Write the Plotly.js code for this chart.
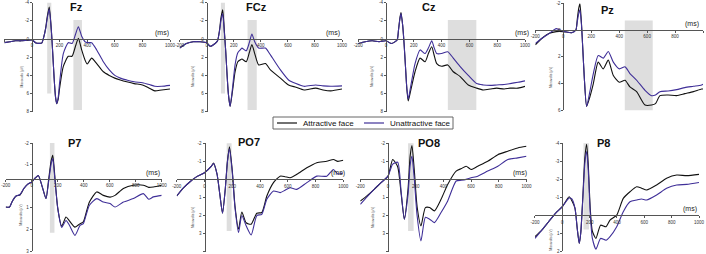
<!DOCTYPE html>
<html><head><meta charset="utf-8">
<script src="https://cdn.plot.ly/plotly-3.0.1.min.js"></script>
<style>html,body{margin:0;padding:0;background:#fff}#chart{width:706px;height:254px}</style>
</head><body><div id="chart"></div>
<script>
// ---------- DATA (ms, microvolts) ----------
const channelNames = ['Fz','FCz','Cz','Pz','P7','PO7','PO8','P8'];
const seriesNames = ['Attractive face','Unattractive face'];
const timeTicks = [-200,0,200,400,600,800,1000];

const fzTime = [-200,-160,-120,-80,-40,0,30,70,85,100,110,125,140,150,160,170,179,190,200,227,263,290,315,336,360,384,400,432,469,517,560,600,640,686,740,800,850,890,940,1000];
const fzAttractive = [0.4,0.3,0.2,0.2,0.15,0.1,0.45,0.45,-0.2,-1.3,-2.4,-3.5,-1.0,1.5,4.2,6.3,7.1,6.6,5.4,3.0,1.9,1.9,0.8,-0.07,1.2,2.3,2.75,2.1,2.7,3.6,4.0,4.3,4.5,4.7,4.9,5.05,5.4,5.7,5.6,5.5];
const fzUnattractive = [0.4,0.3,0.2,0.2,0.15,0.1,0.45,0.45,-0.2,-1.2,-2.2,-3.3,-1.0,1.5,4.2,6.3,7.1,6.4,4.8,1.6,0.4,0.5,-0.5,-1.35,-0.3,0.3,0.4,0.4,1.2,2.5,3.4,4.0,4.3,4.5,4.7,4.8,5.0,5.2,5.2,5.1];

const fczTime = [-200,-150,-100,-50,0,25,62,80,95,105,118,130,140,150,160,173,190,210,230,248,260,292,315,334,355,384,434,471,545,605,660,719,805,860,917,1000];
const fczAttractive = [1.0,0.5,0.3,0.3,0.4,0.8,0.5,0.2,-1.0,-2.3,-3.2,-1.0,1.2,3.8,6.0,7.4,5.8,3.6,2.5,2.3,2.2,2.5,1.5,0.6,1.6,2.85,2.7,3.4,4.3,5.05,5.3,5.6,5.4,5.6,5.7,5.5];
const fczUnattractive = [1.0,0.5,0.3,0.3,0.4,0.8,0.5,0.2,-0.9,-2.0,-2.8,-0.8,1.2,3.8,6.0,7.4,5.5,2.8,1.5,1.2,1.0,1.3,0.4,-0.55,0.3,1.0,1.0,1.75,3.4,4.5,4.9,5.2,5.05,5.15,5.2,5.15];

const czTime = [-200,-150,-100,-50,0,40,80,90,100,108,120,130,140,150,160,180,209,245,281,305,329,345,365,400,444,484,532,592,652,700,750,796,850,892,950,1000];
const czAttractive = [0.5,0.3,0.2,0.3,0.2,0.5,0.1,-1.0,-2.3,-2.9,-1.5,0.5,3.0,5.5,6.8,5.5,3.6,2.1,2.5,1.6,0.85,1.7,2.7,3.0,2.85,3.6,4.1,5.05,5.4,5.6,5.5,5.4,5.5,5.4,5.4,5.2];
const czUnattractive = [0.5,0.3,0.2,0.3,0.2,0.5,0.1,-1.0,-2.2,-2.8,-1.5,0.5,3.0,5.4,6.6,5.0,2.7,1.2,1.6,1.0,0.2,0.9,1.6,1.6,1.4,2.1,3.0,4.0,4.9,5.05,5.1,5.05,5.0,4.9,4.75,4.6];

const pzTime = [-200,-150,-100,-50,0,60,90,100,110,119,130,140,150,167,190,215,250,286,322,358,401,442,477,525,585,632,660,692,750,811,870,931,990,1000];
const pzAttractive = [1.1,0.6,0.25,0.12,0.12,0.2,0.0,-0.8,-1.6,-1.95,-0.5,1.5,3.5,5.7,5.0,4.0,2.4,2.9,2.25,3.4,3.9,3.75,4.25,4.6,5.6,5.6,5.5,4.9,4.85,4.9,4.75,4.6,4.4,4.4];
const pzUnattractive = [1.0,0.6,0.25,-0.1,0.1,0.2,0.0,-0.6,-1.2,-1.5,-0.4,1.5,3.5,5.7,4.6,3.25,1.9,2.1,1.6,2.4,2.9,2.75,3.25,3.75,4.5,4.9,4.85,4.6,4.55,4.45,4.3,4.2,4.1,4.05];

const p7Time = [-200,-170,-150,-120,-90,-60,-30,0,30,51,80,110,130,150,162,180,200,231,264,290,333,372,397,420,444,500,551,603,641,705,782,859,900,936,1000];
const p7Attractive = [0.96,0.96,0.7,0.45,0.4,0.1,-0.1,-0.2,-0.4,-0.5,0.0,0.57,-0.3,-1.2,-1.44,-0.3,1.0,1.85,1.42,1.6,1.89,1.73,1.65,1.2,0.73,0.26,0.42,0.5,0.42,0.1,-0.05,-0.05,0.05,0.03,-0.05];
const p7Unattractive = [0.96,0.96,0.7,0.45,0.38,0.1,-0.1,-0.2,-0.4,-0.5,0.0,0.57,-0.2,-1.05,-1.28,-0.2,1.0,1.9,1.58,1.8,2.27,1.81,1.73,1.3,0.88,0.57,0.73,0.8,0.96,0.73,0.57,0.34,0.6,0.49,0.42];

const po7Time = [-200,-150,-100,-50,0,50,65,90,110,130,150,165,180,200,220,245,269,300,336,377,413,449,497,545,580,617,665,737,809,881,929,960,1000];
const po7Attractive = [0.92,0.46,0.1,-0.18,-0.37,-0.73,-0.9,-0.3,0.8,1.87,0.5,-1.0,-1.8,-0.5,1.5,2.75,1.8,2.4,2.48,1.87,1.83,0.92,0.18,-0.18,-0.15,-0.09,-0.28,-0.64,-0.92,-1.0,-1.1,-1.0,-1.06];
const po7Unattractive = [0.92,0.46,0.1,-0.18,-0.37,-0.73,-0.88,-0.3,0.8,1.87,0.5,-0.95,-1.7,-0.4,1.6,2.94,2.0,2.57,3.08,2.0,1.93,1.1,0.64,0.73,0.6,0.46,0.55,0.18,-0.18,-0.18,-0.55,-0.3,-0.37];

const po8Time = [-200,-150,-100,-50,0,34,70,95,118,145,160,173,190,210,238,270,301,335,383,431,492,530,564,600,648,720,793,865,937,1000];
const po8Attractive = [1.2,0.9,0.55,0.18,-0.18,-1.1,-0.7,0.8,2.2,0.5,-1.3,-1.87,-0.5,1.5,2.57,1.56,1.56,1.74,1.1,0.28,-0.46,-0.6,-0.73,-0.55,-0.73,-1.0,-1.37,-1.56,-1.74,-1.83];
const po8Unattractive = [1.38,0.95,0.55,0.18,-0.18,-0.85,-0.95,0.7,2.2,0.8,-0.8,-1.28,0.0,2.0,3.4,2.1,2.2,2.39,1.83,1.19,0.09,0.05,0.0,-0.09,-0.18,-0.46,-0.73,-1.1,-1.19,-1.28];

const p8Time = [-200,-150,-100,-50,0,50,70,93,110,124,135,150,165,178,190,205,220,246,280,320,349,398,446,495,544,580,617,690,763,837,910,1000];
const p8Attractive = [1.2,0.84,0.37,-0.1,-0.47,-1.02,-0.8,-0.37,0.8,1.58,1.0,-1.0,-3.2,-3.95,-2.8,-0.3,0.9,1.3,0.56,0.65,0.28,0.0,-0.93,-1.3,-1.58,-1.5,-1.4,-1.68,-2.05,-2.23,-2.2,-2.27];
const p8Unattractive = [1.3,0.84,0.37,-0.1,-0.47,-0.95,-0.9,-0.37,0.8,1.58,1.0,-0.9,-2.9,-3.54,-2.5,0.0,1.3,1.9,1.3,1.4,1.2,0.65,-0.19,-0.74,-0.84,-0.9,-0.84,-1.12,-1.49,-1.68,-1.71,-1.82];

// analysis windows [tStart, tEnd, vTop, vBottom]
const fzWindows = [[110,140,-4,6],[300,362,-2.1,7.8]];
const fczWindows = [[105,135,-4,6],[302,370,-2.1,7.8]];
const czWindows = [[445,650,-2.1,7.8]];
const pzWindows = [[440,640,-0.7,6]];
const p7Windows = [[140,175,-2.1,2.15]];
const po7Windows = [[160,195,-2.1,2.85]];
const po8Windows = [[145,185,-2.1,2.85]];
const p8Windows = [[155,195,-4.1,0.8]];

const yTickSets = [[-4,-2,0,2,4,6,8],[-4,-2,0,2,4,6,8],[-4,-2,0,2,4,6,8],[-2,0,2,4,6],[-2,-1,1,2,3],[-2,-1,1,2,3,4],[-2,-1,1,2,3,4],[-4,-3,-2,-1,1,2]];

const dataSets = [
  [fzTime,fzAttractive,fzUnattractive,fzWindows],
  [fczTime,fczAttractive,fczUnattractive,fczWindows],
  [czTime,czAttractive,czUnattractive,czWindows],
  [pzTime,pzAttractive,pzUnattractive,pzWindows],
  [p7Time,p7Attractive,p7Unattractive,p7Windows],
  [po7Time,po7Attractive,po7Unattractive,po7Windows],
  [po8Time,po8Attractive,po8Unattractive,po8Windows],
  [p8Time,p8Attractive,p8Unattractive,p8Windows]
];

// ---------- GEOMETRY (pixels in a 706x254 canvas) ----------
const W = 706, H = 254;
const geom = [
  {x0:32,    xs:0.138,  y0:39,    ys:9.1,   yr:[-4,8], cross:0,     title:[76,7],    ms:940, ylab:[21.5,77]},
  {x0:206.7, xs:0.1353, y0:39,    ys:9.1,   yr:[-4,8], cross:0,     title:[256,7],   ms:936, ylab:[193,77]},
  {x0:386,   xs:0.139,  y0:39,    ys:9.1,   yr:[-4,8], cross:0,     title:[429,7],   ms:975, ylab:[372,77]},
  {x0:563.3, xs:0.1397, y0:30,    ys:13.4,  yr:[-2,6], cross:0,     title:[607,10],  ms:920, ylab:[551,78]},
  {x0:31.7,  xs:0.13,   y0:186.3, ys:21.6,  yr:[-2,3], cross:-0.36, title:[74,143],  ms:933, ylab:[20.7,215]},
  {x0:204.5, xs:0.1388, y0:179.4, ys:18.07, yr:[-2,4], cross:0,     title:[249,142], ms:960, ylab:[193,218]},
  {x0:388,   xs:0.1385, y0:179.4, ys:18.07, yr:[-2,4], cross:0,     title:[429,143], ms:953, ylab:[373,217]},
  {x0:562.3, xs:0.1367, y0:215.1, ys:17.95, yr:[-4,2], cross:0,     title:[603,143], ms:934, ylab:[550.7,240]}
];
// legend box [left, top, right, bottom] and entries [lineStart, lineEnd, textStart] in px
const legendBox = [273, 117, 453, 129];
const legendEntries = [[277, 297, 300.5], [364, 384, 387.5]];

const COL_A = '#111111', COL_U = '#3f2f98', SHADE = '#dedede';
const FONT = 'Liberation Sans, Arial, sans-serif';
const clamp = v => Math.max(0, Math.min(1, v));
const px2x = p => p / W, px2y = p => 1 - p / H;

const traces = [], shapes = [], annotations = [];
const layout = {
  width: W, height: H, margin: {l:0, r:0, t:0, b:0},
  paper_bgcolor: '#ffffff', plot_bgcolor: 'rgba(0,0,0,0)',
  font: {family: FONT, color: '#222'},
  showlegend: false
};

channelNames.forEach((name, i) => {
  const g = geom[i];
  const [t, a, u, wins] = dataSets[i];
  const xs = i === 0 ? 'x' : 'x' + (i + 1);
  const ys = i === 0 ? 'y' : 'y' + (i + 1);
  const xk = i === 0 ? 'xaxis' : 'xaxis' + (i + 1);
  const yk = i === 0 ? 'yaxis' : 'yaxis' + (i + 1);
  const pxL = g.x0 + g.xs * -200, pxR = g.x0 + g.xs * 1000;
  const pyT = g.y0 + g.ys * g.yr[0], pyB = g.y0 + g.ys * g.yr[1];
  const axisCommon = {showgrid:false, zeroline:false, showline:true, linecolor:'#555', linewidth:1,
    ticks:'outside', ticklen:2, tickwidth:1, tickcolor:'#555',
    tickfont:{size:4.5, family:FONT, color:'#333'}, fixedrange:true};
  layout[xk] = Object.assign({}, axisCommon, {
    domain:[clamp(pxL / W), clamp(pxR / W)], range:[-200, 1000],
    anchor:'free', position: clamp(1 - (g.y0 + g.ys * g.cross) / H),
    tickmode:'array', tickvals: timeTicks, ticktext: timeTicks.map(String)
  });
  layout[yk] = Object.assign({}, axisCommon, {
    domain:[clamp(1 - pyB / H), clamp(1 - pyT / H)], range:[g.yr[1], g.yr[0]],
    anchor:'free', position: clamp(g.x0 / W),
    tickmode:'array', tickvals: yTickSets[i], ticktext: yTickSets[i].map(String)
  });
  wins.forEach(w => shapes.push({type:'rect', xref:xs, yref:ys, x0:w[0], x1:w[1], y0:w[2], y1:w[3],
    fillcolor:SHADE, line:{width:0}, layer:'below'}));
  traces.push({type:'scatter', mode:'lines', x:t, y:a, xaxis:xs, yaxis:ys, name:seriesNames[0],
    line:{color:COL_A, width:1.1, shape:'spline', smoothing:0.6}, hoverinfo:'skip'});
  traces.push({type:'scatter', mode:'lines', x:t, y:u, xaxis:xs, yaxis:ys, name:seriesNames[1],
    line:{color:COL_U, width:1.1, shape:'spline', smoothing:0.6}, hoverinfo:'skip'});
  annotations.push({xref:'paper', yref:'paper', x:px2x(g.title[0]), y:px2y(g.title[1]),
    text:'<b>' + name + '</b>', showarrow:false, xanchor:'center', yanchor:'middle',
    font:{size:11, family:FONT, color:'#111111'}});
  annotations.push({xref:xs, yref:ys, x:g.ms, y:g.cross, text:'(ms)', showarrow:false,
    xanchor:'center', yanchor:'bottom', font:{size:7, family:FONT, color:'#222222'}});
  annotations.push({xref:'paper', yref:'paper', x:px2x(g.ylab[0]), y:px2y(g.ylab[1]),
    text:'Microvolts (µV)', textangle:-90, showarrow:false, xanchor:'center', yanchor:'middle',
    font:{size:3.2, family:FONT, color:'#444444'}});
});

// legend drawn in paper space
shapes.push({type:'rect', xref:'paper', yref:'paper', x0:px2x(legendBox[0]), x1:px2x(legendBox[2]),
  y0:px2y(legendBox[3]), y1:px2y(legendBox[1]), fillcolor:'#ffffff', line:{color:'#666666', width:1}, layer:'above'});
const legY = (legendBox[1] + legendBox[3]) / 2;
[COL_A, COL_U].forEach((c, k) => {
  const e = legendEntries[k];
  shapes.push({type:'line', xref:'paper', yref:'paper', x0:px2x(e[0]), x1:px2x(e[1]), y0:px2y(legY), y1:px2y(legY),
    line:{color:c, width:1.2}, layer:'above'});
  annotations.push({xref:'paper', yref:'paper', x:px2x(e[2]), y:px2y(legY), text:seriesNames[k],
    showarrow:false, xanchor:'left', yanchor:'middle', font:{size:8, family:FONT, color:'#111111'}});
});

layout.shapes = shapes;
layout.annotations = annotations;

Plotly.newPlot('chart', traces, layout, {displayModeBar:false, staticPlot:true});
</script>
</body></html>
